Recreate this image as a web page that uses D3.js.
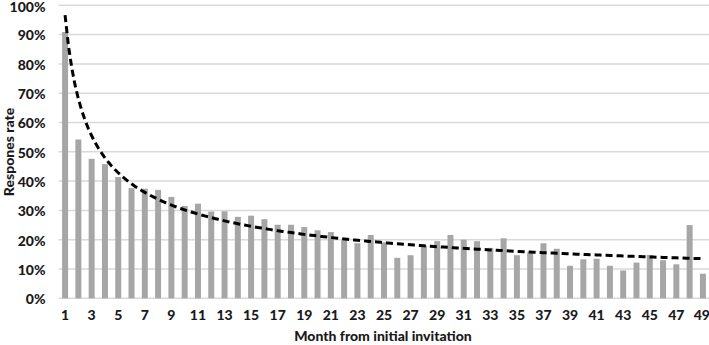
<!DOCTYPE html>
<html>
<head>
<meta charset="utf-8">
<script src="https://cdn.jsdelivr.net/npm/d3@7"></script>
<style>
body { margin: 0; background: #fff; }
text { font-family: Lato, "Open Sans", sans-serif; font-weight: 900; fill: #1a1a1a; }
</style>
</head>
<body>
<script>
// Response rate by month (%)
const months = d3.range(1, 50);
const rates = [90.9, 54.2, 47.6, 45.8, 41.4, 37.6, 37.4, 37.0, 34.6, 31.5,
  32.3, 29.6, 29.7, 27.8, 28.2, 27.0, 25.1, 25.1, 24.3, 23.2,
  22.6, 19.8, 18.8, 21.6, 19.1, 13.8, 14.7, 18.0, 19.5, 21.6,
  20.0, 19.5, 17.2, 20.5, 14.7, 15.7, 18.8, 16.9, 11.1, 13.3,
  13.5, 11.1, 9.5, 12.2, 14.8, 13.0, 11.6, 25.0, 8.4];
const yTicks = [0, 10, 20, 30, 40, 50, 60, 70, 80, 90, 100];
const xTicks = months.filter(function(m){ return m % 2 === 1; });

const width = 709;
const height = 345;
const margin = {top: 5.3, right: 0, bottom: 46.7, left: 58.5};

const svg = d3.select("body")
  .append("svg")
  .attr("width", width)
  .attr("height", height);

const x = d3.scaleBand()
  .domain(months)
  .range([margin.left, 709.5])
  .paddingInner(0.55)
  .paddingOuter(0.27);

const y = d3.scaleLinear()
  .domain([0, 100])
  .range([height - margin.bottom, margin.top]);

// gridlines
svg.append("g")
  .selectAll("line")
  .data(yTicks)
  .enter()
  .append("line")
  .attr("x1", margin.left)
  .attr("x2", width)
  .attr("y1", function(d){ return y(d); })
  .attr("y2", function(d){ return y(d); })
  .attr("stroke", "#d9d9d9")
  .attr("stroke-width", 1.5);

// y axis labels
const yAxis = d3.axisLeft(y)
  .tickValues(yTicks)
  .tickSize(0)
  .tickPadding(13)
  .tickFormat(function(d){ return d + "%"; });

const gy = svg.append("g")
  .attr("transform", "translate(" + margin.left + ",0)")
  .call(yAxis);
gy.select(".domain").remove();
gy.selectAll("text")
  .attr("font-size", 14)
  .attr("dy", function(d){ return d === 100 ? "0.45em" : "0.38em"; });

// bars
svg.append("g")
  .selectAll("rect")
  .data(months)
  .enter()
  .append("rect")
  .attr("x", function(d){ return x(d); })
  .attr("y", function(d, i){ return y(rates[i]); })
  .attr("width", x.bandwidth())
  .attr("height", function(d, i){ return y(0) - y(rates[i]); })
  .attr("fill", "#a6a6a6");

// x axis labels
const xAxis = d3.axisBottom(x)
  .tickValues(xTicks)
  .tickSize(0)
  .tickPadding(12);

const gx = svg.append("g")
  .attr("transform", "translate(0," + y(0) + ")")
  .call(xAxis);
gx.select(".domain").remove();
gx.selectAll("text").attr("font-size", 14);
// keep the last label inside the frame
gx.selectAll("text")
  .filter(function(d){ return d === 49; })
  .attr("text-anchor", "end")
  .attr("x", 7);

// power trendline fitted to the data (least squares on logs)
const lx = months.map(function(m){ return Math.log(m); });
const ly = rates.map(function(r){ return Math.log(r); });
const mx = d3.mean(lx), my = d3.mean(ly);
let sxy = 0, sxx = 0;
lx.forEach(function(v, i){ sxy += (v - mx) * (ly[i] - my); sxx += (v - mx) * (v - mx); });
const b = sxy / sxx;
const a = Math.exp(my - b * mx);

const trendX = d3.range(1, 49.01, 0.25);
svg.append("path")
  .datum(trendX)
  .attr("fill", "none")
  .attr("stroke", "#000")
  .attr("stroke-width", 3)
  .attr("stroke-dasharray", "7,4")
  .attr("d", d3.line()
    .x(function(d){ return x(1) + x.bandwidth() / 2 + (d - 1) * x.step(); })
    .y(function(d){ return y(a * Math.pow(d, b)); }));

// axis titles
svg.append("text")
  .attr("x", 383)
  .attr("y", 341)
  .attr("text-anchor", "middle")
  .attr("font-size", 14)
  .text("Month from initial invitation");

svg.append("text")
  .attr("transform", "rotate(-90)")
  .attr("x", -152)
  .attr("y", 14)
  .attr("text-anchor", "middle")
  .attr("font-size", 14)
  .text("Respones rate");
</script>
</body>
</html>
